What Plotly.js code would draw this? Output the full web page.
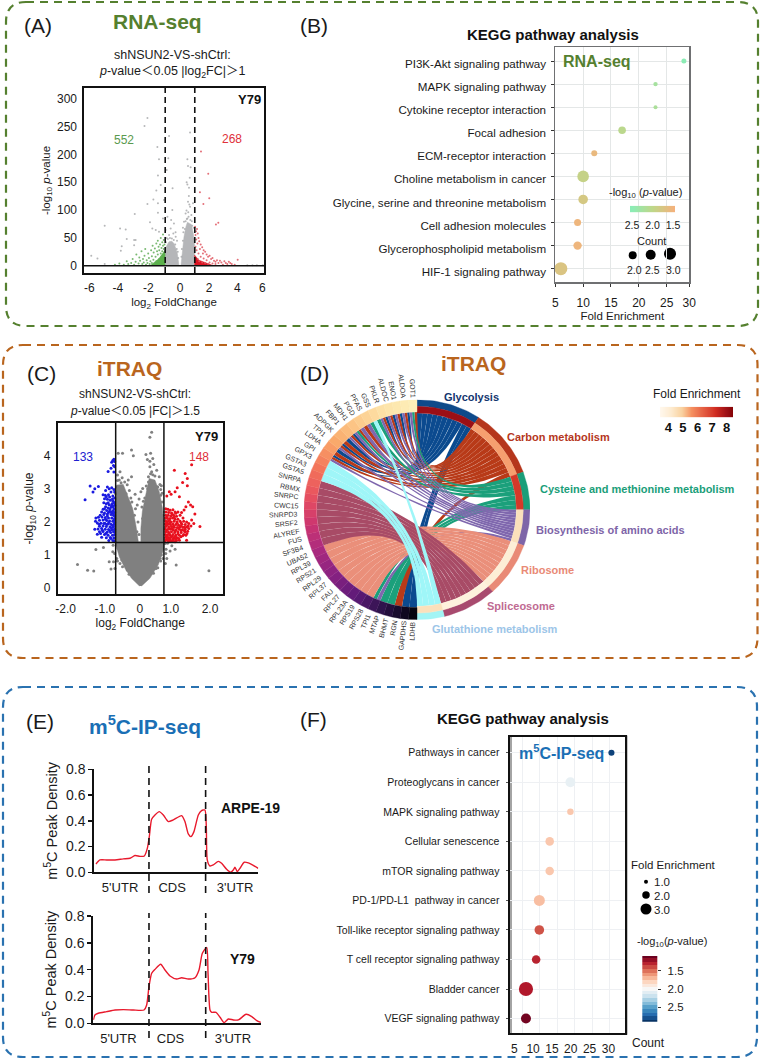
<!DOCTYPE html>
<html><head><meta charset="utf-8">
<script src="https://cdn.plot.ly/plotly-3.0.1.min.js"></script>
<style>html,body{margin:0;padding:0;background:#fff}</style></head>
<body><div id="chart" style="width:760px;height:1059px"></div>
<script>
// ---------- Panel A values (log2 FC, -log10 p) ----------
const rnaGrayBody=[[-1.01,1],[-1.01,30],[-0.9,36],[-0.74,43],[-0.55,44],[-0.41,40],[-0.28,31],[-0.18,22],[-0.07,1]];
const rnaGrayBody2=[[0.07,1],[0.16,22],[0.27,52],[0.4,70],[0.5,78],[0.65,76],[0.77,74],[0.9,58],[0.99,36],[0.99,1]];
const rnaGreenBody=[[-1.98,1],[-1.42,13],[-1.01,28],[-1.01,1]];
const rnaRedBody=[[0.99,1],[0.99,19],[1.28,10],[2.18,1]];
const rnaGray=[[-2.2,265],[-2.4,251],[-0.74,233],[0.68,239],[-1.53,213],[-1.42,191],[-0.79,193],[0.5,191],[0.54,179],[0.72,177],[-0.9,172],[-1.49,162],[-0.5,139],[0.5,146],[0.61,140],[-2.2,111],[-1.8,119],[-3.06,93],[-5.09,72],[-4.05,67],[-3.67,65],[-1.49,112],[-1.49,95],[-1.08,118],[-1.15,85],[-2.03,78],[-1.64,64],[-1.87,67],[-1.42,61],[-3.6,48],[-3.1,46],[-3,46],[-3.1,37],[-3.94,35],[-4,27],[-6,18],[-5.58,13],[-5.09,3],[-0.41,76],[-0.63,67],[-0.97,64],[-0.52,100],[-0.45,58],[-0.74,55],[-0.29,52],[0.54,115],[0.68,106],[0.38,94],[0.5,85],[0.77,91],[0.27,79],[0.88,112],[-0.85,88],[-0.6,82],[-0.9,50],[-0.2,45],[0.2,68],[0.6,125],[0.45,150],[0.66,158],[-0.3,60],[4.55,1],[4.9,1],[5.2,1],[5.6,1],[-1.6,135],[-1.3,145],[-0.95,42],[-0.82,48],[-0.68,50],[-0.55,49],[-0.42,46],[-0.32,38],[-0.22,30],[-0.15,25],[-0.12,14],[0.1,16],[0.13,30],[0.2,45],[0.23,60],[0.33,66],[0.38,80],[0.46,84],[0.58,88],[0.7,82],[0.82,72],[0.93,68],[0.96,48],[0.44,99],[0.56,96],[0.63,110],[0.8,80]];
const rnaGreen=[[-4.4,2],[-4.1,4],[-3.8,2],[-3.6,8],[-3.5,3],[-3.3,5],[-3.2,12],[-3.1,2],[-3,7],[-2.95,20],[-2.8,4],[-2.75,15],[-2.7,9],[-2.6,26],[-2.55,3],[-2.5,12],[-2.45,6],[-2.4,18],[-2.35,30],[-2.3,2],[-2.25,10],[-2.2,5],[-2.15,22],[-2.1,14],[-2.05,3],[-2,8],[-1.95,28],[-1.9,17],[-1.9,5],[-1.85,36],[-1.8,11],[-1.78,24],[-1.7,4],[-1.7,31],[-1.65,16],[-1.6,40],[-1.6,8],[-1.55,26],[-1.5,20],[-1.5,45],[-1.45,34],[-1.4,28],[-1.4,12],[-1.35,38],[-1.3,22],[-1.3,50],[-1.25,32],[-1.25,16],[-1.2,42],[-1.2,26],[-1.15,36],[-1.15,56],[-1.1,30],[-1.1,46],[-1.05,38],[-1.05,24]];
const rnaRed=[[1.02,70],[1.08,62],[1.05,55],[1.15,66],[1.2,58],[1.25,50],[1.1,47],[1.3,44],[1.18,40],[1.4,38],[1.35,30],[1.05,34],[1.12,28],[1.5,33],[1.6,28],[1.55,22],[1.7,25],[1.8,20],[1.25,22],[1.9,16],[2,18],[1.4,16],[2.1,12],[1.6,13],[2.2,14],[2.3,9],[1.8,10],[2.4,7],[2.5,10],[2,6],[2.6,5],[2.7,9],[2.8,6],[2.2,4],[3,8],[3.1,5],[3.2,3],[3.3,7],[3.4,5],[3.5,3],[3.7,2],[3.9,11],[1.2,12],[1.3,8],[1.5,6],[1.7,5],[1.9,3],[2.4,3],[2.9,2],[1.42,205],[1.91,165],[1.35,132],[1.98,121],[1.58,111],[2.59,77],[2.43,74]];
const rnaThresholds=[-1,1];
// ---------- Panel B values ----------
const keggRna=['PI3K-Akt signaling pathway','MAPK signaling pathway','Cytokine receptor interaction','Focal adhesion','ECM-receptor interaction','Choline metabolism in cancer','Glycine, serine and threonine metabolism','Cell adhesion molecules','Glycerophospholipid metabolism','HIF-1 signaling pathway'];
const keggRnaFold=[28.1,23,23,17,12,10,10,9,9,6];
const keggRnaCount=[1.25,1.1,1,1.9,1.5,2.9,2.4,1.75,2.1,3.25];
const keggRnaP=[2.55,2.25,2.2,2.05,1.6,1.95,1.8,1.55,1.55,1.75];
const rnaLegendCounts=[2,2.5,3];
const rnaLegendLevels=[2.5,2.4,2.3,2.2,2.1,2,1.9,1.8,1.7,1.6,1.5];
// ---------- Panel C values ----------
const itraqGrayBody=[[-0.01,0.07],[-0.23,0.3],[-0.41,0.6],[-0.57,0.95],[-0.66,1.3],[-0.69,1.91],[-0.66,2.51],[-0.64,3.11],[-0.46,3.13],[-0.32,2.76],[-0.2,2.41],[-0.11,1.91],[-0.04,1.4],[0.03,1.4],[0.03,1.81],[0.07,2.31],[0.17,2.86],[0.26,3.31],[0.42,3.26],[0.54,2.91],[0.63,2.41],[0.67,1.71],[0.67,1.2],[0.51,0.7],[0.28,0.3],[0.05,0.07]];
const itraqGray=[[0.33,4.7],[0.28,4.55],[-0.23,4.17],[-0.18,3.99],[-0.6,4.07],[-0.48,4.07],[0.17,4.03],[0.3,4.07],[0.36,3.91],[0.21,3.88],[0.28,3.83],[0.39,3.73],[0.28,3.66],[0.47,3.56],[0.33,3.51],[0.24,3.36],[0.54,3.36],[-0.55,3.51],[-0.62,3.41],[-0.49,3.33],[-0.23,3.36],[-0.32,3.26],[-0.57,3.26],[-0.13,2.83],[0.08,3.01],[0.03,2.91],[-0.02,2.69],[-0.07,2.51],[0.56,3.13],[0.6,3.09],[0.47,3.06],[-1.22,1.17],[-1.01,1.23],[-0.74,1.3],[-0.75,1.1],[-0.85,0.8],[-0.73,0.8],[-0.8,0.58],[-0.69,0.6],[-0.64,0.9],[-0.55,0.75],[-1.73,0.72],[-1.45,0.54],[-1.28,0.52],[1.92,0.53],[1.01,0.7],[0.98,1.18],[0.84,1.12],[0.75,0.9],[0.73,1.18],[0.77,1.36],[0.89,1.28],[0.71,0.75],[-0.66,1.6],[-0.62,1.5],[-0.6,1.2],[-0.6,2.9],[-0.63,2.7],[-0.55,2.95],[-0.5,3],[0.62,2.6],[0.58,2.8],[0.5,3.05],[0.65,2.2],[0.66,1.5],[0.6,1.0],[0.55,0.9],[0.45,0.6],[-0.5,0.85],[-0.35,0.55],[-0.15,0.3],[0.2,0.3],[-0.28,2.55],[-0.15,2.2],[-0.08,1.7],[0.12,2.4],[0.08,2.1],[0.2,2.7],[0.22,3.0],[-0.38,2.85],[-0.22,2.6],[-0.42,3.2],[-0.35,3.12],[-0.62,3.25],[0.36,3.42],[0.42,3.38],[0.3,3.45],[-0.29,2.95],[-0.25,2.72],[-0.12,2.4],[-0.05,2.0],[-0.02,1.62],[0.06,2.45],[0.14,2.72],[0.1,2.62],[0.18,3.08],[0.24,3.2],[0.58,2.98],[0.62,2.86],[0.68,2.3],[0.7,2.05],[0.69,1.82],[0.7,1.35],[0.72,1.05],[0.64,0.9],[0.58,0.82],[0.5,0.62],[0.38,0.45],[-0.7,1.75],[-0.71,2.2],[-0.67,2.85],[-0.7,1.45],[-0.7,1.05],[-0.62,0.82],[-0.48,0.65],[-0.3,0.42],[-0.65,3.05],[-0.52,3.18],[0.0,1.25],[0.0,0.95],[0.0,1.1],[-0.02,0.75]];
const itraqBlue=[[-0.72,3.89],[-0.75,3.85],[-0.7,3.82],[-0.78,3.8],[-0.73,3.7],[-0.7,3.66],[-0.8,3.62],[-0.88,3.52],[-0.72,3.5],[-1.38,3.08],[-1.15,3.07],[-1.25,3],[-1.3,2.9],[-0.9,3.05],[-0.85,3],[-0.78,3.03],[-0.72,2.98],[-0.95,2.95],[-0.8,2.9],[-0.7,2.9],[-1.52,2.67],[-1.02,2.82],[-0.96,2.8],[-0.87,2.82],[-0.75,2.78],[-0.7,2.72],[-0.98,2.7],[-0.9,2.68],[-0.82,2.65],[-0.74,2.62],[-1.0,2.58],[-0.93,2.55],[-0.85,2.52],[-0.77,2.55],[-0.7,2.5],[-0.95,2.46],[-0.88,2.42],[-0.8,2.44],[-0.72,2.4],[-1.02,2.38],[-0.92,2.34],[-0.84,2.32],[-0.75,2.33],[-0.7,2.28],[-0.98,2.27],[-0.9,2.24],[-0.8,2.22],[-0.73,2.2],[-1.1,2.2],[-1.22,2.12],[-1.15,2.14],[-1.05,2.15],[-0.96,2.13],[-0.87,2.12],[-0.78,2.12],[-0.7,2.1],[-1.23,2.02],[-1.12,2.05],[-1.02,2.06],[-0.92,2.04],[-0.84,2.03],[-0.75,2.02],[-1.18,1.97],[-1.08,1.96],[-0.97,1.96],[-0.88,1.94],[-0.8,1.93],[-0.71,1.94],[-1.12,1.87],[-1.02,1.88],[-0.93,1.86],[-0.83,1.85],[-0.74,1.84],[-1.25,1.78],[-1.16,1.79],[-1.06,1.8],[-0.96,1.78],[-0.87,1.77],[-0.78,1.76],[-0.7,1.78],[-1.12,1.7],[-1.02,1.71],[-0.91,1.69],[-0.81,1.68],[-0.73,1.7],[-1.18,1.63],[-0.98,1.62],[-0.88,1.6],[-0.76,1.6],[-0.7,1.62],[-1.06,1.54],[-0.93,1.52],[-0.82,1.53],[-0.72,1.52],[-0.86,1.44],[-0.75,1.44],[-0.7,1.42],[-1.0,1.95],[-0.9,2.18],[-0.83,2.38],[-0.78,2.5],[-0.88,2.58],[-0.93,2.76],[-0.84,2.75],[-0.76,2.69],[-1.06,2.3],[-1.0,2.22],[-0.95,2.08],[-0.86,1.98],[-0.76,1.9],[-0.92,1.92],[-1.04,1.75],[-0.84,1.73],[-0.94,1.65],[-0.79,1.82],[-0.73,1.88],[-0.72,2.06],[-0.76,2.26],[-0.74,2.46],[-0.71,2.58],[-0.8,2.3],[-0.87,2.28],[-0.98,2.4],[-1.13,1.93],[-1.09,1.65],[-0.7,1.98],[-0.7,2.18],[-0.7,2.38],[-0.7,1.7],[-0.8,1.5]];
const itraqRed=[[0.96,3.56],[1.26,3.46],[1.32,3.31],[1.19,3.19],[1.32,3.09],[1.04,3.03],[0.98,2.91],[0.82,2.91],[0.87,2.83],[0.75,2.78],[1.1,2.76],[1.35,2.6],[1.41,2.51],[1.47,2.46],[1.28,2.46],[1.23,2.36],[1.53,2.24],[1.67,1.86],[1.44,2.06],[1.44,3.72],[0.72,2.4],[0.78,2.38],[0.84,2.35],[0.92,2.37],[0.73,2.3],[0.8,2.28],[0.88,2.27],[0.98,2.3],[1.06,2.3],[0.72,2.2],[0.79,2.2],[0.86,2.18],[0.94,2.2],[1.02,2.17],[1.12,2.2],[0.71,2.12],[0.77,2.1],[0.84,2.1],[0.91,2.12],[0.98,2.08],[1.06,2.08],[1.2,2.12],[0.72,2.02],[0.79,2.02],[0.87,2.0],[0.95,2.02],[1.03,2.0],[1.12,2.02],[1.3,2.0],[0.71,1.94],[0.78,1.93],[0.85,1.92],[0.92,1.94],[1.0,1.92],[1.08,1.9],[1.17,1.93],[1.26,1.92],[1.36,1.95],[0.72,1.86],[0.8,1.85],[0.88,1.86],[0.96,1.84],[1.04,1.83],[1.12,1.85],[1.2,1.84],[1.3,1.85],[1.42,1.88],[0.71,1.78],[0.77,1.77],[0.85,1.78],[0.93,1.76],[1.01,1.76],[1.1,1.78],[1.18,1.76],[1.26,1.78],[1.36,1.8],[0.72,1.7],[0.8,1.69],[0.88,1.7],[0.97,1.68],[1.06,1.7],[1.15,1.68],[1.25,1.7],[1.33,1.72],[0.71,1.62],[0.77,1.61],[0.84,1.6],[0.92,1.62],[1.0,1.6],[1.1,1.6],[1.22,1.62],[1.31,1.65],[0.72,1.54],[0.8,1.53],[0.87,1.54],[0.95,1.52],[1.04,1.52],[1.14,1.55],[0.72,1.46],[0.78,1.45],[0.85,1.45],[0.93,1.44],[1.02,1.44],[1.1,1.45],[1.3,1.45],[0.7,1.41],[0.8,1.41],[0.88,1.41],[0.98,1.4],[0.75,2.14],[0.82,2.05],[0.9,2.24],[0.75,1.98],[0.83,1.96],[0.94,1.88],[1.04,1.96],[1.15,1.97],[1.22,2.02],[0.74,1.9],[0.82,1.82],[0.9,1.8],[0.98,1.72],[1.06,1.64],[1.15,1.74],[1.24,1.84],[1.34,1.88],[0.75,1.74],[0.82,1.65],[0.9,1.57],[0.99,1.56],[1.08,1.5],[0.75,1.58],[0.76,1.5],[0.83,1.49],[0.92,1.48],[1.0,1.48],[1.19,1.58],[1.28,1.6],[1.14,1.88],[1.24,1.74],[1.08,1.82],[1.0,2.26],[1.16,2.28],[0.95,2.14],[1.5,1.95]];
const itraqX=[-0.67,0.67], itraqY=[1.38];
// ---------- Panel D values ----------
const chordPathways=['Glycolysis','Carbon metabolism','Cysteine and methionine metabolism','Biosynthesis of amino acids','Ribosome','Spliceosome','Glutathione metabolism'];
const chordPathwaySpan=[33,37,20,19,29,28,14];
const chordPathwayFold=[8,5.4,7,4.5,4,3.8,4.5];
const chordGenes=['LDHB','GAPDHS','RGN','BHMT','MTAP','TPI1','RPS28','RPS19','RPL23A','RPL27','FAU','RPL37','RPL29','RPS21','RPL39','UBA52','SF3B4','FUS','ALYREF','SRSF2','SNRPD3','CWC15','SNRPC','RBMX','SNRPA','GSTA5','GSTA3','GPX3','GPI','LDHA','TPI1','ADPGK','FBP1','MDH1','PGD','PFAS','GSS','PKLR','ALDOC','ENO1','ALDOA','GOT1'];
const chordMembership=[[0],[0],[1],[2],[2],[2,3],[4],[4],[4],[4],[4],[4],[4],[4],[4],[4],[5],[5],[5],[5],[5],[5],[5],[5],[5],[6],[6],[6],[0,1,3],[0,1],[0,1,3],[0,1],[0,1,3],[1,2,3],[1,3],[2,3],[2,6],[0,1,3],[0,1,3],[0,1,3],[0,1,3],[1,2,3]];
const foldLegendLevels=[3.4,3.9,4.4,4.9,5.4,5.9,6.4,6.9,7.4,7.9,8.5];
// ---------- Panel E values ----------
const arpeX=[0.065,0.135,0.253,0.4,0.547,0.665,0.753,0.841,0.918,0.971,1.006,1.047,1.106,1.182,1.253,1.341,1.429,1.576,1.635,1.694,1.741,1.794,1.871,1.929,1.988,2.012,2.029,2.076,2.135,2.224,2.282,2.371,2.441,2.488,2.518,2.559,2.606,2.682,2.753,2.841,2.929];
const arpeY=[0.065,0.096,0.096,0.096,0.104,0.109,0.13,0.124,0.127,0.186,0.277,0.412,0.445,0.471,0.445,0.394,0.407,0.44,0.394,0.298,0.277,0.316,0.445,0.479,0.484,0.355,0.096,0.049,0.057,0.085,0.07,0.023,0,0.018,0.039,0.005,0.031,0.078,0.073,0.054,0.031];
const y79X=[0.02,0.047,0.106,0.253,0.4,0.547,0.724,0.912,0.959,1.0,1.047,1.106,1.206,1.282,1.371,1.488,1.576,1.694,1.812,1.882,1.941,2.018,2.041,2.076,2.106,2.182,2.253,2.324,2.4,2.488,2.576,2.712,2.812,2.9,2.97];
const y79Y=[0.025,0.062,0.075,0.087,0.099,0.102,0.099,0.099,0.137,0.273,0.373,0.402,0.44,0.397,0.353,0.33,0.34,0.33,0.34,0.397,0.522,0.566,0.373,0.099,0.082,0.082,0.045,0.005,0.032,0.025,0.025,0.067,0.05,0.02,0.007];
const regionBounds=[1,2];
// ---------- Panel F values ----------
const keggIp=['Pathways in cancer','Proteoglycans in cancer','MAPK signaling pathway','Cellular senescence','mTOR signaling pathway','PD-1/PD-L1  pathway in cancer','Toll-like receptor signaling pathway','T cell receptor signaling pathway','Bladder cancer','VEGF signaling pathway'];
const keggIpCount=[30.8,19.9,19.9,14.4,14.4,11.65,11.65,10.8,8.1,8.1];
const keggIpFold=[1.6,2.7,1.7,2.3,2.3,3,2.6,2.3,3.9,2.7];
const keggIpP=[2.85,2.07,1.75,1.75,1.75,1.72,1.42,1.3,1.27,1.12];
const ipLegendFold=[1,2,3];
const ipLegendLevels=[1.1,1.2,1.3,1.4,1.5,1.6,1.7,1.8,1.9,2,2.1,2.2,2.3,2.4,2.5,2.6,2.7,2.8,2.9];

// ---------- Helpers ----------
const W=760,H=1059, FF='"Liberation Sans", Arial, "Noto Sans CJK SC", sans-serif';
const fnt=(s,c,extra)=>Object.assign({family:FF,size:s,color:c||'#1a1a1a'},extra||{});
const GREEN='#55802f',ORANGE='#b9651e',BLUE='#2a72b0',TBLUE='#1a6fb5';
const pairsX=a=>a.map(p=>p[0]), pairsY=a=>a.map(p=>p[1]);
const traces=[],shapes=[],annotations=[];
const layout={width:W,height:H,margin:{l:0,r:0,t:0,b:0},paper_bgcolor:'#fff',plot_bgcolor:'rgba(0,0,0,0)',showlegend:false,hovermode:false,
  xaxis:{domain:[0,1],range:[0,W],visible:false,fixedrange:true},
  yaxis:{domain:[0,1],range:[H,0],visible:false,fixedrange:true},shapes,annotations};
function axes(n,r,xo,yo){
  layout['xaxis'+n]=Object.assign({domain:[r[0]/W,r[1]/W],anchor:'y'+n,showgrid:false,zeroline:false,fixedrange:true,ticks:'',tickfont:fnt(12),layer:'above traces'},xo);
  layout['yaxis'+n]=Object.assign({domain:[1-r[3]/H,1-r[2]/H],anchor:'x'+n,showgrid:false,zeroline:false,fixedrange:true,ticks:'',tickfont:fnt(12),layer:'above traces'},yo);
}
const note=(x,y,text,size,color,opt)=>annotations.push(Object.assign({xref:'x',yref:'y',x,y,text,showarrow:false,font:fnt(size,color),xanchor:'center',yanchor:'middle',borderpad:0},opt||{}));
function box(x0,y0,x1,y1,r,c){
  shapes.push({type:'path',xref:'x',yref:'y',layer:'below',line:{color:c,width:2.2,dash:'8px,6px'},
   path:`M${x0+r} ${y0}L${x1-r} ${y0}Q${x1} ${y0} ${x1} ${y0+r}L${x1} ${y1-r}Q${x1} ${y1} ${x1-r} ${y1}L${x0+r} ${y1}Q${x0} ${y1} ${x0} ${y1-r}L${x0} ${y0+r}Q${x0} ${y0} ${x0+r} ${y0}Z`});
}
const poly=(n,a,color)=>traces.push({type:'scatter',mode:'lines',x:pairsX(a),y:pairsY(a),xaxis:'x'+n,yaxis:'y'+n,fill:'toself',fillcolor:color,line:{color,width:0.5},hoverinfo:'skip'});
const pts=(n,a,color,size,op)=>traces.push({type:'scatter',mode:'markers',x:pairsX(a),y:pairsY(a),xaxis:'x'+n,yaxis:'y'+n,marker:{color,size,opacity:op||1,line:{width:0}},hoverinfo:'skip'});
function lerpStops(stops,t){
  t=Math.max(0,Math.min(1,t));let i=0;while(i<stops.length-2&&t>stops[i+1][0])i++;
  const [t0,c0]=stops[i],[t1,c1]=stops[i+1],u=(t-t0)/(t1-t0);
  const h=c=>[1,3,5].map(k=>parseInt(c.substr(k,2),16));const a=h(c0),b=h(c1);
  return 'rgb('+a.map((v,k)=>Math.round(v+(b[k]-v)*u)).join(',')+')';
}

// ---------- Boxes + headings ----------
box(6,2,758,326,20,GREEN); box(3,345,757.5,658,20,ORANGE); box(3,687,757,1057,20,BLUE);
[['(A)',38,25],['(B)',314,25],['(C)',41,373],['(D)',314,373],['(E)',40,721],['(F)',313,719]].forEach(a=>note(a[1],a[2],a[0],21,'#1a1a1a'));
note(157.5,21,'<b>RNA-seq</b>',21,GREEN);
note(129.5,368,'<b>iTRAQ</b>',21,ORANGE);
note(473.5,363,'<b>iTRAQ</b>',21,ORANGE);
note(145,725,'<b>m<sup>5</sup>C-IP-seq</b>',21,TBLUE);

// ---------- Panel A ----------
axes(2,[84,264,88,273],
 {range:[-6.49,5.68],tickvals:[-6.13,-4.2,-2.14,0,1.96,3.87,5.56],ticktext:['-6','-4','-2','0','2','4','6'],showline:true,mirror:true,linewidth:1.6,linecolor:'#111',ticklabelstandoff:3,
  title:{text:'log<sub>2</sub> FoldChange',font:fnt(11.5),standoff:4}},
 {range:[-13,319],tickvals:[0,50,100,150,200,250,300],showline:true,mirror:true,linewidth:1.6,linecolor:'#111',ticklabelstandoff:3,
  title:{text:'-log<sub>10</sub> <i>p</i>-value',font:fnt(11.5),standoff:4}});
poly(2,rnaGrayBody,'#b5b6b9');poly(2,rnaGrayBody2,'#b5b6b9');poly(2,rnaGreenBody,'#5cb14c');poly(2,rnaRedBody,'#dc1422');
pts(2,rnaGray,'#a9aaad',2,0.85);pts(2,rnaGreen,'#62ad58',2,0.85);pts(2,rnaRed,'#df5660',2,0.85);
rnaThresholds.forEach(v=>shapes.push({type:'line',xref:'x2',yref:'y2',x0:v,x1:v,y0:-13,y1:319,line:{color:'#111',width:1.6,dash:'6px,4px'}}));
shapes.push({type:'line',xref:'x2',yref:'y2',x0:-6.49,x1:5.68,y0:0,y1:0,line:{color:'#111',width:1.5}});
note(172,55,'shNSUN2-VS-shCtrl:',12.5);
note(172,72,'<i>p</i>-value＜0.05 |log<sub>2</sub>FC|＞1',12.5);
note(249,99,'<b>Y79</b>',13,'#111');note(123.7,140,'552',12,'#5a9a4e');note(232.3,138.7,'268',12,'#e0303a');

// ---------- Panel B ----------
axes(3,[555.3,689.3,47.3,282.3],
 {range:[5,29.07],tickvals:[5,10,15,20,25,29.05],ticktext:['5','10','15','20','25','30'],showgrid:true,gridcolor:'#e4e7e7',gridwidth:1,showline:true,mirror:true,linewidth:1.4,linecolor:'#6f7072',ticks:'outside',ticklen:3,tickcolor:'#333',ticklabelshift:3.5,ticklabelstandoff:6,
  title:{text:'Fold Enrichment',font:fnt(11.5),standoff:1}},
 {type:'category',categoryarray:keggRna,categoryorder:'array',range:[9.59,-0.594],showgrid:true,gridcolor:'#e4e7e7',gridwidth:1,showline:true,mirror:true,linewidth:1.4,linecolor:'#6f7072',ticks:'outside',ticklen:2.5,tickcolor:'#333',tickfont:fnt(11.6),ticklabelstandoff:3,ticklabelshift:-3});
const rnaScale=[[0,'#f3b27c'],[0.5,'#c0d688'],[1,'#8cecb5']];
traces.push({type:'scatter',mode:'markers',x:keggRnaFold,y:keggRna,xaxis:'x3',yaxis:'y3',cliponaxis:false,hoverinfo:'skip',
 marker:{size:keggRnaCount.map(c=>4*c),opacity:1,color:keggRnaP,cmin:1.5,cmax:2.5,colorscale:rnaScale,line:{width:0}}});
note(553,34,'<b>KEGG pathway analysis</b>',15,'#111');
note(596.5,61.7,'<b>RNA-seq</b>',16,GREEN);
note(645,193,'-log<sub>10</sub> (<i>p</i>-value)',11);
axes(4,[630,675,205.7,212.3],{range:[2.55,1.45],tickvals:[2.5,2,1.5],ticktext:['2.5','2.0','1.5'],tickfont:fnt(10.5),ticklabelstandoff:5},{range:[0,1],showticklabels:false});
traces.push({type:'heatmap',x:rnaLegendLevels,y:[0,1],z:[rnaLegendLevels,rnaLegendLevels],xaxis:'x4',yaxis:'y4',zmin:1.5,zmax:2.5,colorscale:rnaScale,showscale:false,hoverinfo:'skip',zsmooth:'best'});
note(651,240.7,'Count',11);
traces.push({type:'scatter',mode:'markers',x:[632.7,650.7,670],y:[255.3,254.7,253.7],marker:{color:'#000',opacity:1,size:rnaLegendCounts.map(c=>4*c),line:{width:0}},hoverinfo:'skip'});
rnaLegendCounts.forEach((c,i)=>note([634,652.7,673.3][i],270,c.toFixed(1),10.5));

// ---------- Panel C ----------
axes(5,[57.5,223,423,594],
 {range:[-2.286,2.311],tickvals:[-2.06,-0.97,0,0.86,1.95],ticktext:['-2.0','-1.0','0','1.0','2.0'],showline:true,mirror:true,linewidth:1.6,linecolor:'#111',ticklabelstandoff:3,
  title:{text:'log<sub>2</sub> FoldChange',font:fnt(12),standoff:2}},
 {range:[-0.172,4.98],tickvals:[0,1,2,3,4],showline:true,mirror:true,linewidth:1.6,linecolor:'#111',ticklabelstandoff:3,
  title:{text:'-log<sub>10</sub> <i>p</i>-value',font:fnt(12),standoff:7}});
poly(5,itraqGrayBody,'#808080');pts(5,itraqGray,'#808080',3);pts(5,itraqBlue,'#1a1ae0',3);pts(5,itraqRed,'#e8101e',3);
itraqX.forEach(v=>shapes.push({type:'line',xref:'x5',yref:'y5',x0:v,x1:v,y0:-0.172,y1:4.98,line:{color:'#111',width:1.5}}));
itraqY.forEach(v=>shapes.push({type:'line',xref:'x5',yref:'y5',x0:-2.286,x1:2.311,y0:v,y1:v,line:{color:'#111',width:1.5}}));
note(135,394,'shNSUN2-VS-shCtrl:',12);
note(135,411,'<i>p</i>-value＜0.05 |FC|＞1.5',12);
note(206.7,436.7,'<b>Y79</b>',13,'#111');note(82.7,457.3,'133',12,'#2020d0');note(199,457.3,'148',12,'#e0303a');

// ---------- Panel D (chord) ----------
const cCx=417,cCy=509.7,cRx=113,cRy=110;
axes(6,[cCx-cRx,cCx+cRx,cCy-cRy,cCy+cRy],{range:[-1,1],visible:false},{range:[-1,1],visible:false});
const rad=d=>d*Math.PI/180;
const px=(d,r)=>[r*Math.sin(rad(d)),r*Math.cos(rad(d))];
function arcPts(a,b,r){const n=Math.max(2,Math.ceil(Math.abs(b-a)/1.5)+1),o=[];for(let i=0;i<n;i++)o.push(px(a+(b-a)*i/(n-1),r));return o;}
function sector(a,b,r1,r2,color){const p=arcPts(a,b,r2).concat(arcPts(b,a,r1));p.push(p[0]);
 traces.push({type:'scatter',mode:'lines',x:pairsX(p),y:pairsY(p),xaxis:'x6',yaxis:'y6',fill:'toself',fillcolor:color,line:{color,width:0.4},hoverinfo:'skip'});}
function bez(A,B){const o=[];for(let i=0;i<=30;i++){const t=i/30,s=1-t;o.push([s*s*A[0]+t*t*B[0],s*s*A[1]+t*t*B[1]]);}return o;}
const ribbonColor=['#0b4a8f','#b83a18','#1ba07b','#7f67ae','#ea8f7a','#a84b66','#9ff6f8'];
const ringColor=['#0e4a8a','#b5361c','#1a9e79','#7e65a8','#e98a76','#a84a6e','#a2f5f5'];
const pathwayText=['#12356e','#b5361c','#1a9e79','#7e65a8','#e98a76','#c06a92','#9cc5e8'];
const foldStops=[[0,'#fff7ec'],[0.15,'#fdebd0'],[0.3,'#f9d2a0'],[0.42,'#f59060'],[0.6,'#e35a40'],[0.75,'#cf2b20'],[0.9,'#9c0f16'],[1,'#7f0000']];
const geneStops=['#050510','#2b1248','#5d1a78','#862181','#a8297f','#cc3570','#e8525f','#f3765a','#f9a769','#fcc98a','#fde3a8','#fdeeb8'].map((c,i,a)=>[i/(a.length-1),c]);
const step=180/chordGenes.length;
// gene sub-arcs, clockwise from the bottom
const geneArc=chordGenes.map((g,i)=>{const m=chordMembership[i].slice().reverse(),a=180+i*step,w=step/m.length,o={};m.forEach((p,k)=>o[p]=[a+k*w,a+(k+1)*w]);return o;});
let pStart=0;
chordPathways.forEach((name,p)=>{
  const span=chordPathwaySpan[p],pEnd=pStart+span;
  const members=[];for(let i=chordGenes.length-1;i>=0;i--)if(geneArc[i][p])members.push(i);
  const w=span/members.length;
  members.forEach((g,k)=>{
    const a1=pStart+k*w,a2=a1+w,[b1,b2]=geneArc[g][p],r=0.878,rg=0.888;
    const path=[].concat(arcPts(a1,a2,r),bez(px(a2,r),px(b1,rg)),arcPts(b1,b2,rg),bez(px(b2,rg),px(a1,r)));
    traces.push({type:'scatter',mode:'lines',x:pairsX(path),y:pairsY(path),xaxis:'x6',yaxis:'y6',fill:'toself',fillcolor:ribbonColor[p],line:{color:'rgba(255,255,255,0.1)',width:0.3},hoverinfo:'skip'});
  });
  sector(pStart,pEnd,0.94,1,ringColor[p]);
  sector(pStart,pEnd,0.88,0.94,lerpStops(foldStops,(chordPathwayFold[p]-3.4)/(8.5-3.4)));
  pStart=pEnd;
});
chordGenes.forEach((g,i)=>{
  const a=180+i*step;
  sector(a,a+step,0.89,1,lerpStops(geneStops,i/(chordGenes.length-1)));
  const mid=a+step/2,w=g.length*4.4,lx=cCx+(120+w/2)*Math.sin(rad(mid)),ly=cCy-(113+w/2)*Math.cos(rad(mid));
  note(lx,ly,g,7,'#333',{textangle:mid-270});
});
[[471.7,396.7,'center'],[506,437.3,'left'],[538.7,489,'left'],[535,530,'left'],[519.7,570,'left'],[486,605.7,'left'],[431.3,629,'left']].forEach((a,i)=>
  note(a[0],a[1],'<b>'+chordPathways[i]+'</b>',11,pathwayText[i],{xanchor:a[2]}));
note(697,394,'Fold Enrichment',12);
axes(7,[660,733.3,406.7,417.3],{range:[3.43,8.45],tickvals:[4,5,6,7,8],tickfont:fnt(13,'#111',{weight:700}),ticklabelstandoff:1},{range:[0,1],showticklabels:false});
traces.push({type:'heatmap',x:foldLegendLevels,y:[0,1],z:[foldLegendLevels,foldLegendLevels],xaxis:'x7',yaxis:'y7',zmin:3.4,zmax:8.5,colorscale:foldStops,showscale:false,hoverinfo:'skip',zsmooth:'best'});

// ---------- Panel E ----------
function peakAxes(n,r,xr,ticks,xs,ys,label,lx,ly,yTop,yBot){
 axes(n,r,{range:xr,tickvals:ticks,ticktext:["5'UTR",'CDS',"3'UTR"],showline:true,linewidth:2,linecolor:'#111',tickfont:fnt(13),ticklabelstandoff:2},
  {range:[0,0.8],tickvals:[0,0.2,0.4,0.6,0.8],tickformat:'.1f',showline:true,linewidth:2,linecolor:'#111',ticks:'outside',ticklen:4,tickwidth:1.5,tickcolor:'#111',tickfont:fnt(14),
   title:{text:'m<sup>5</sup>C Peak Density',font:fnt(14.5),standoff:5}});
 traces.push({type:'scatter',mode:'lines',x:xs,y:ys,xaxis:'x'+n,yaxis:'y'+n,line:{color:'#e8192c',width:1.4,shape:'spline',smoothing:0.6},hoverinfo:'skip'});
 regionBounds.forEach(v=>shapes.push({type:'line',xref:'x'+n,yref:'paper',x0:v,x1:v,y0:1-yBot/H,y1:1-yTop/H,line:{color:'#111',width:1.6,dash:'7px,5px'}}));
 note(lx,ly,'<b>'+label+'</b>',14,'#111');
}
peakAxes(8,[94.3,258.3,769.3,872.3],[0.035,2.93],[0.49,1.41,2.52],arpeX,arpeY,'ARPE-19',250,808,765.3,893);
peakAxes(9,[93.3,261,916,1023.3],[0.018,2.975],[0.46,1.38,2.48],y79X,y79Y,'Y79',242.7,959,913,1038);

// ---------- Panel F ----------
const ipScale=[[0,'#67001f'],[0.1,'#b2182b'],[0.2,'#d6604d'],[0.3,'#f4a582'],[0.4,'#fddbc7'],[0.5,'#f7f7f7'],[0.6,'#d1e5f0'],[0.7,'#92c5de'],[0.8,'#4393c3'],[0.9,'#2166ac'],[1,'#053061']];
shapes.push({type:'rect',xref:'x',yref:'y',layer:'below',x0:511,x1:626.7,y0:736.3,y1:1034,line:{color:'#8e8e8e',width:1.6}});
axes(10,[510,625,737.3,1033.3],
 {range:[3.86,34.4],tickvals:[5,10,15,20,25,30],showline:true,mirror:true,linewidth:2,linecolor:'#111',ticklabelstandoff:3,
  minor:{tickvals:[7.2,11.8,16.4,21,25.7,30.3],showgrid:true,gridcolor:'#eef0f3',gridwidth:1,ticks:''}},
 {type:'category',categoryarray:keggIp,categoryorder:'array',range:[9.5,-0.525],showgrid:true,gridcolor:'#eef0f3',gridwidth:1,showline:true,mirror:true,linewidth:2,linecolor:'#111',ticks:'outside',ticklen:2.5,tickcolor:'#555',tickfont:fnt(10.5),ticklabelstandoff:4});
traces.push({type:'scatter',mode:'markers',x:keggIpCount,y:keggIp,xaxis:'x10',yaxis:'y10',hoverinfo:'skip',
 marker:{size:keggIpFold.map(v=>3.5*v+0.5),opacity:1,color:keggIpP,cmin:1.09,cmax:2.91,colorscale:ipScale,line:{width:0}}});
note(523,718.7,'<b>KEGG pathway analysis</b>',15,'#111');
note(561,752,'<b>m<sup>5</sup>C-IP-seq</b>',16,TBLUE);
note(648,1042.5,'Count',12);
note(673,865,'Fold Enrichment',11.5);
traces.push({type:'scatter',mode:'markers',x:[646,646,646],y:[881.7,895,909],marker:{color:'#000',opacity:1,size:ipLegendFold.map(v=>3.5*v+0.5),line:{width:0}},hoverinfo:'skip'});
ipLegendFold.forEach((v,i)=>note(662,[882,896,910][i],v.toFixed(1),11.5));
note(671.7,942,'-log<sub>10</sub>(<i>p</i>-value)',11);
axes(11,[642.3,657.3,956,1021.7],{range:[0,1],showticklabels:false},
 {range:[2.9,1.09],side:'right',tickvals:[1.5,2,2.5],ticktext:['1.5','2.0','2.5'],ticks:'outside',ticklen:3,tickcolor:'#333',tickfont:fnt(11.5),ticklabelstandoff:4});
traces.push({type:'heatmap',x:[0,1],y:ipLegendLevels,z:ipLegendLevels.map(v=>[v,v]),xaxis:'x11',yaxis:'y11',zmin:1.09,zmax:2.91,colorscale:ipScale,showscale:false,hoverinfo:'skip'});

Plotly.newPlot('chart',traces,layout,{displayModeBar:false,staticPlot:true});
</script></body></html>
